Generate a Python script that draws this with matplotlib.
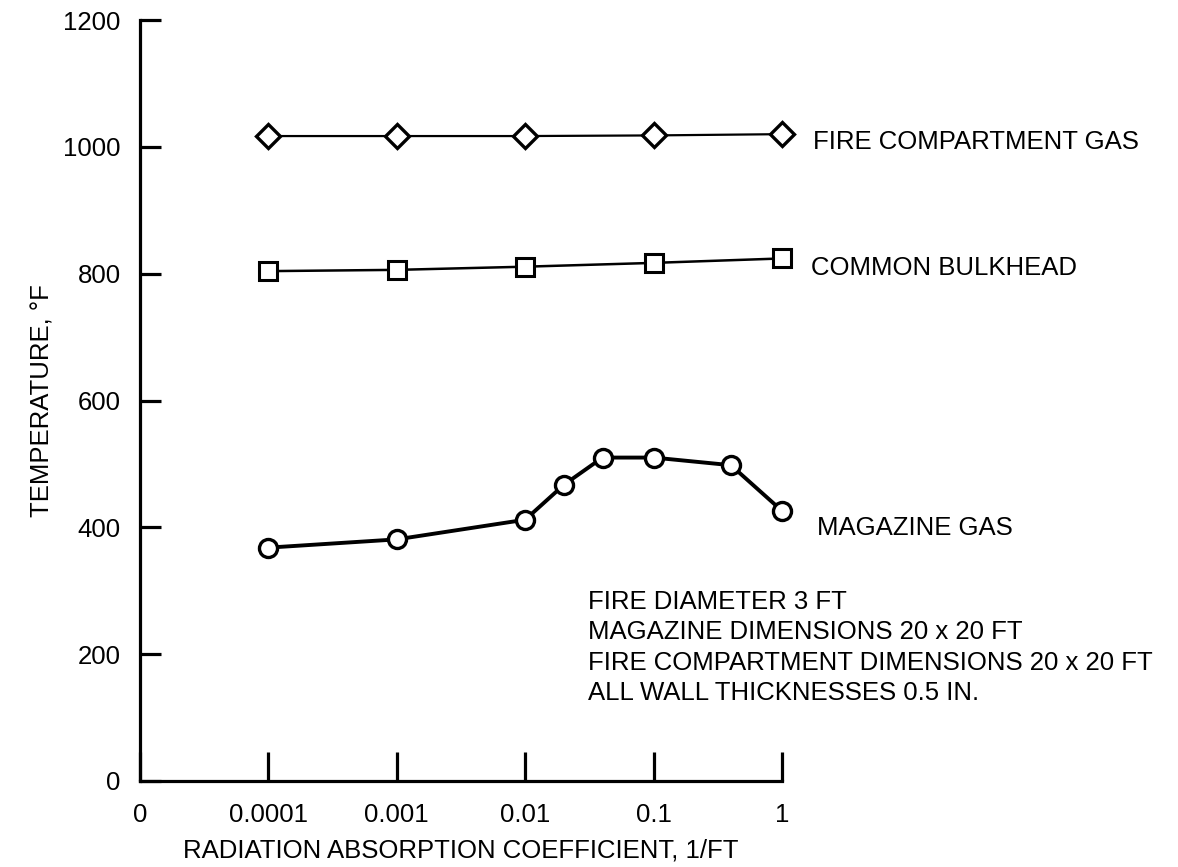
import matplotlib
matplotlib.use('Agg')
import matplotlib.pyplot as plt

plt.rcParams['font.family'] = ['Liberation Sans', 'DejaVu Sans']

# ---- data ----
coef_5 = [0.0001, 0.001, 0.01, 0.1, 1.0]
fire_gas = [1017, 1017, 1017, 1018, 1020]
bulkhead = [804, 806, 811, 817, 824]

coef_mag = [0.0001, 0.001, 0.01, 0.02, 0.04, 0.1, 0.4, 1.0]
magazine = [368, 381, 412, 467, 510, 510, 498, 426]

xtick_vals = [1e-5, 1e-4, 1e-3, 1e-2, 1e-1, 1.0]
xtick_labels = ['0', '0.0001', '0.001', '0.01', '0.1', '1']
ytick_vals = [0, 200, 400, 600, 800, 1000, 1200]

notes = ['FIRE DIAMETER 3 FT',
         'MAGAZINE DIMENSIONS 20 x 20 FT',
         'FIRE COMPARTMENT DIMENSIONS 20 x 20 FT',
         'ALL WALL THICKNESSES 0.5 IN.']

FS = 18.5
fig = plt.figure(figsize=(11.78, 8.67), dpi=100, facecolor='white')
ax = fig.add_axes([140/1178, 1 - 781/867, 642/1178, 761/867])

ax.plot(coef_5, fire_gas, color='black', lw=1.6, marker='D', ms=12.5,
        mfc='white', mec='black', mew=2.4, clip_on=False, zorder=3)
ax.plot(coef_5, bulkhead, color='black', lw=1.8, marker='s', ms=13,
        mfc='white', mec='black', mew=2.2, clip_on=False, zorder=3)
ax.plot(coef_mag, magazine, color='black', lw=2.8, marker='o', ms=13,
        mfc='white', mec='black', mew=2.4, clip_on=False, zorder=3)

ax.set_xscale('log')
ax.set_xlim(1e-5, 1.0)
ax.set_ylim(0, 1200)
ax.set_xticks(xtick_vals)
ax.set_xticklabels(xtick_labels)
ax.minorticks_off()
ax.set_yticks(ytick_vals)

for s in ['top', 'right']:
    ax.spines[s].set_visible(False)
for s in ['left', 'bottom']:
    ax.spines[s].set_linewidth(2.3)

ax.tick_params(axis='y', direction='in', length=15, width=2.3,
               labelsize=FS, pad=14)
ax.tick_params(axis='x', direction='in', length=21, width=2.3,
               labelsize=FS, pad=16)

ax.set_xlabel('RADIATION ABSORPTION COEFFICIENT, 1/FT', fontsize=FS, labelpad=8)
ax.set_ylabel('TEMPERATURE, °F', fontsize=FS, labelpad=6)

# series labels placed just right of the last point
ax.annotate('FIRE COMPARTMENT GAS', xy=(coef_5[-1], fire_gas[-1]),
            xytext=(22, -6), textcoords='offset points',
            ha='left', va='center', fontsize=FS, annotation_clip=False)
ax.annotate('COMMON BULKHEAD', xy=(coef_5[-1], bulkhead[-1]),
            xytext=(21, -7), textcoords='offset points',
            ha='left', va='center', fontsize=FS, annotation_clip=False)
ax.annotate('MAGAZINE GAS', xy=(coef_mag[-1], magazine[-1]),
            xytext=(25, -12), textcoords='offset points',
            ha='left', va='center', fontsize=FS, annotation_clip=False)

for i, line in enumerate(notes):
    ax.text(0.698, 0.235 - i * 0.0398, line, transform=ax.transAxes,
            ha='left', va='center', fontsize=FS)

fig.savefig('out.png', dpi=100, facecolor='white')
